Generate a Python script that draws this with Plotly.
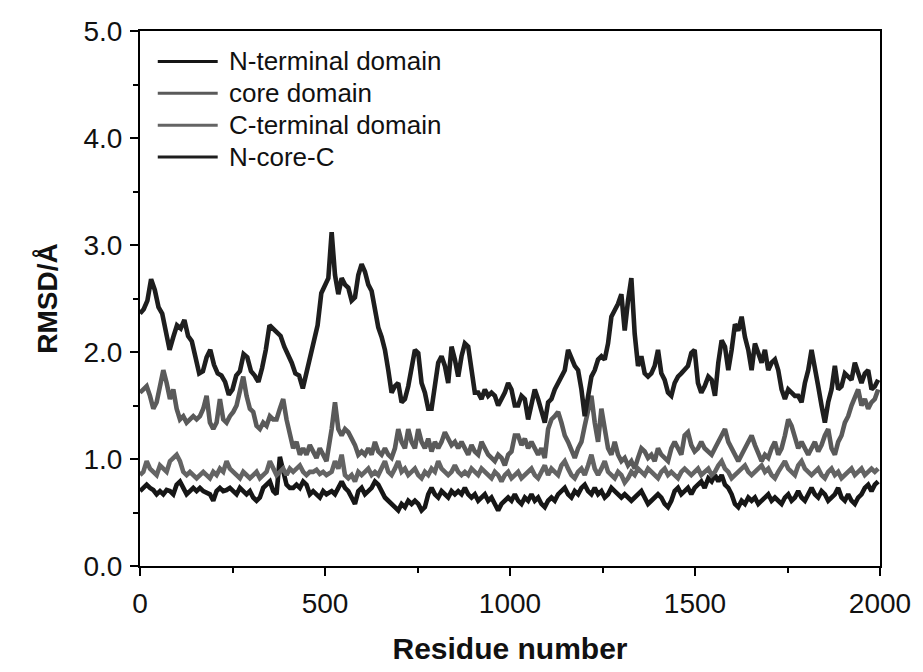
import plotly.graph_objects as go

# Residue numbers at which each RMSD trace was sampled (four stretches of the trajectory)
residue_nc = (list(range(0, 501, 10))
              + [482 + 9 * j for j in range(3, 60)]
              + [995 + 9 * j for j in range(3, 60)]
              + [1509 + 9 * j for j in range(3, 55)])
residue = ([9 * j for j in range(57)]
           + [482 + 9 * j for j in range(4, 60)]
           + [995 + 9 * j for j in range(3, 60)]
           + [1509 + 9 * j for j in range(3, 55)])

# RMSD (Å) of the whole protein, N-core-C
rmsd_ncore_c = [
    2.36, 2.40, 2.48, 2.68, 2.58, 2.42, 2.36, 2.20, 2.02, 2.14, 2.25, 2.22, 2.30, 2.15, 2.10, 1.95, 1.80,
    1.82, 1.95, 2.02, 1.88, 1.80, 1.78, 1.72, 1.60, 1.65, 1.78, 1.82, 1.98, 1.95, 1.82, 1.78, 1.72, 1.85,
    2.02, 2.25, 2.22, 2.18, 2.15, 2.05, 1.98, 1.90, 1.80, 1.78, 1.66, 1.82, 1.98, 2.10, 2.25, 2.55, 2.62,
    2.69, 3.12, 2.72, 2.54, 2.69, 2.63, 2.60, 2.48, 2.51, 2.72, 2.82, 2.75, 2.63, 2.57, 2.39, 2.23, 2.14,
    2.02, 1.83, 1.62, 1.68, 1.71, 1.53, 1.56, 1.68, 1.83, 2.02, 1.99, 1.71, 1.62, 1.47, 1.47, 1.71, 1.90,
    1.96, 1.87, 1.71, 2.05, 1.93, 1.77, 1.96, 2.08, 2.05, 1.83, 1.62, 1.62, 1.56, 1.65, 1.59, 1.62, 1.59,
    1.50, 1.56, 1.62, 1.71, 1.65, 1.50,
    1.50, 1.59, 1.56, 1.37, 1.50, 1.65, 1.56, 1.44, 1.34, 1.53, 1.56, 1.65, 1.71, 1.77, 1.83, 2.02, 1.93,
    1.87, 1.83, 1.65, 1.40, 1.62, 1.77, 1.83, 1.93, 1.96, 1.93, 2.08, 2.33, 2.39, 2.45, 2.54, 2.20, 2.48,
    2.69, 2.17, 1.87, 1.96, 1.80, 1.77, 1.80, 1.87, 2.02, 1.80, 1.74, 1.62, 1.59, 1.71, 1.77, 1.80, 1.83,
    1.87, 1.99, 2.02, 1.71, 1.62, 1.68,
    1.77, 1.74, 1.59, 1.90, 2.11, 2.05, 1.83, 2.02, 2.26, 2.20, 2.33, 2.14, 2.02, 1.83, 2.08, 1.99, 1.90,
    2.02, 1.83, 1.90, 1.93, 1.83, 1.65, 1.56, 1.65, 1.62, 1.59, 1.59, 1.53, 1.71, 1.83, 2.02, 1.87, 1.68,
    1.50, 1.34, 1.53, 1.65, 1.87, 1.65, 1.68, 1.80, 1.77, 1.74, 1.90, 1.80, 1.71, 1.80, 1.83, 1.65, 1.68,
    1.74,
]

# RMSD (Å) of the core domain
rmsd_core = [
    1.62, 1.65, 1.68, 1.59, 1.47, 1.53, 1.71, 1.83, 1.71, 1.56, 1.65, 1.47, 1.37, 1.40, 1.34, 1.37, 1.40,
    1.37, 1.40, 1.47, 1.59, 1.34, 1.28, 1.34, 1.56, 1.37, 1.34, 1.40, 1.44, 1.50, 1.62, 1.77, 1.59, 1.47,
    1.44, 1.31, 1.28, 1.34, 1.31, 1.40, 1.37, 1.37, 1.47, 1.56, 1.37, 1.22, 1.10, 1.16, 1.04, 1.10, 1.04,
    1.13, 1.07, 1.01, 1.10, 1.04, 0.98,
    1.28, 1.53, 1.28, 1.22, 1.28, 1.25, 1.19, 1.13, 1.04, 1.07, 1.04, 1.10, 1.04, 1.16, 1.07, 1.04, 1.10,
    1.04, 1.01, 1.10, 1.28, 1.16, 1.10, 1.28, 1.16, 1.10, 1.28, 1.16, 1.10, 1.19, 1.07, 1.16, 1.10, 1.16,
    1.25, 1.19, 1.13, 1.16, 1.10, 1.16, 1.10, 1.04, 1.13, 1.07, 1.04, 1.16, 1.10, 1.04, 1.01, 0.98, 1.04,
    1.01, 0.94, 1.04, 1.07, 1.22,
    1.22, 1.13, 1.19, 1.10, 1.16, 1.10, 1.04, 1.10, 1.01, 1.28, 1.37, 1.40, 1.44, 1.34, 1.22, 1.16, 1.07,
    1.01, 1.10, 1.16, 1.31, 1.47, 1.59, 1.34, 1.16, 1.47, 1.28, 1.10, 1.04, 1.16, 1.04, 0.98, 1.01, 0.94,
    0.98, 0.91, 1.01, 1.10, 1.07, 1.01, 1.04, 0.98, 1.10, 1.04, 1.01, 0.98, 1.10, 1.16, 1.10, 1.04, 1.22,
    1.25, 1.13, 1.07, 1.10, 1.16, 1.10,
    1.07, 1.04, 1.10, 1.16, 1.22, 1.28, 1.16, 1.10, 1.04, 0.98, 1.04, 1.10, 1.16, 1.22, 1.13, 1.04, 0.98,
    1.04, 1.01, 1.10, 1.16, 1.04, 1.10, 1.22, 1.37, 1.31, 1.22, 1.10, 1.16, 1.10, 1.04, 1.10, 1.16, 1.07,
    1.13, 1.22, 1.28, 1.10, 1.04, 1.16, 1.22, 1.34, 1.40, 1.50, 1.59, 1.65, 1.50, 1.56, 1.47, 1.53, 1.56,
    1.65,
]

# RMSD (Å) of the C-terminal domain
rmsd_cterm = [
    0.85, 0.88, 0.98, 0.91, 0.88, 0.85, 0.94, 0.91, 0.88, 0.98, 1.01, 1.04, 0.98, 0.88, 0.85, 0.88, 0.85,
    0.82, 0.85, 0.88, 0.85, 0.82, 0.88, 0.85, 0.91, 0.88, 0.98, 0.91, 0.88, 0.85, 0.82, 0.88, 0.85, 0.82,
    0.85, 0.88, 0.82, 0.85, 0.88, 0.98, 0.91, 0.85, 0.88, 0.91, 0.85, 0.91, 0.88, 0.91, 0.94, 0.88, 0.85,
    0.88, 0.88, 0.90, 0.86, 0.88, 0.85,
    0.88, 0.98, 0.91, 1.04, 0.85, 0.82, 0.85, 0.79, 0.88, 0.85, 0.88, 0.91, 0.85, 0.88, 0.85, 0.91, 0.98,
    0.88, 0.85, 0.91, 0.98, 0.88, 0.91, 0.85, 0.88, 0.91, 0.85, 0.82, 0.88, 0.85, 0.91, 0.88, 0.98, 0.91,
    0.88, 0.85, 0.88, 0.94, 0.88, 0.85, 0.88, 0.85, 0.91, 0.88, 0.85, 0.91, 0.88, 0.85, 0.82, 0.88, 0.85,
    0.79, 0.85, 0.88, 0.82, 0.85,
    0.88, 0.82, 0.85, 0.88, 0.91, 0.85, 0.82, 0.88, 0.94, 0.85, 0.91, 0.88, 0.85, 0.94, 0.98, 0.91, 0.85,
    0.82, 0.88, 0.91, 0.85, 0.94, 1.04, 0.91, 0.85, 0.91, 0.98, 0.88, 0.85, 0.82, 0.88, 0.85, 0.78, 0.82,
    0.88, 0.85, 0.91, 0.88, 0.85, 0.91, 0.88, 0.85, 0.82, 0.88, 0.91, 0.85, 0.88, 0.85, 0.82, 0.88, 0.91,
    0.88, 0.85, 0.88, 0.91, 0.85, 0.88,
    0.91, 0.85, 0.88, 0.94, 0.98, 0.91, 0.88, 0.82, 0.85, 0.88, 0.91, 0.94, 0.88, 0.85, 0.88, 0.91, 0.94,
    0.88, 0.91, 0.85, 0.82, 0.88, 0.94, 0.98, 0.91, 0.88, 0.85, 0.94, 0.98, 0.91, 0.88, 0.85, 0.88, 0.91,
    0.85, 0.82, 0.88, 0.91, 0.85, 0.88, 0.82, 0.85, 0.88, 0.91, 0.85, 0.88, 0.91, 0.85, 0.88, 0.91, 0.88,
    0.91,
]

# RMSD (Å) of the N-terminal domain
rmsd_nterm = [
    0.70, 0.73, 0.76, 0.73, 0.71, 0.67, 0.70, 0.67, 0.71, 0.70, 0.67, 0.76, 0.79, 0.73, 0.67, 0.70, 0.73,
    0.70, 0.73, 0.70, 0.68, 0.67, 0.61, 0.70, 0.73, 0.70, 0.71, 0.73, 0.70, 0.67, 0.73, 0.70, 0.67, 0.70,
    0.64, 0.61, 0.64, 0.73, 0.76, 0.79, 0.70, 0.67, 1.02, 0.88, 0.76, 0.73, 0.73, 0.76, 0.73, 0.79, 0.76,
    0.67, 0.70, 0.67, 0.64, 0.70, 0.67,
    0.70, 0.67, 0.73, 0.79, 0.73, 0.70, 0.64, 0.58, 0.70, 0.73, 0.67, 0.70, 0.73, 0.79, 0.76, 0.70, 0.64,
    0.61, 0.58, 0.55, 0.52, 0.58, 0.55, 0.61, 0.58, 0.61, 0.58, 0.52, 0.55, 0.67, 0.73, 0.67, 0.64, 0.70,
    0.67, 0.64, 0.70, 0.67, 0.70, 0.67, 0.73, 0.67, 0.64, 0.67, 0.61, 0.64, 0.67, 0.61, 0.64, 0.58, 0.52,
    0.58, 0.61, 0.64, 0.61, 0.67,
    0.61, 0.58, 0.64, 0.61, 0.67, 0.61, 0.64, 0.58, 0.55, 0.61, 0.64, 0.61, 0.67, 0.70, 0.73, 0.67, 0.64,
    0.70, 0.67, 0.73, 0.76, 0.70, 0.67, 0.73, 0.67, 0.70, 0.64, 0.67, 0.73, 0.70, 0.67, 0.64, 0.67, 0.64,
    0.61, 0.64, 0.67, 0.70, 0.64, 0.58, 0.61, 0.64, 0.67, 0.64, 0.58, 0.55, 0.61, 0.70, 0.73, 0.67, 0.70,
    0.73, 0.67, 0.73, 0.76, 0.79, 0.73,
    0.82, 0.79, 0.85, 0.79, 0.85, 0.76, 0.73, 0.67, 0.58, 0.55, 0.61, 0.58, 0.64, 0.61, 0.64, 0.58, 0.61,
    0.64, 0.67, 0.61, 0.64, 0.61, 0.58, 0.64, 0.67, 0.61, 0.64, 0.70, 0.64, 0.61, 0.67, 0.73, 0.67, 0.64,
    0.70, 0.67, 0.61, 0.64, 0.67, 0.73, 0.64, 0.61, 0.67, 0.61, 0.58, 0.64, 0.67, 0.73, 0.76, 0.70, 0.76,
    0.79,
]

series_names = ["N-terminal domain", "core domain", "C-terminal domain", "N-core-C"]
series_x = [residue, residue, residue, residue_nc]
series_y = [rmsd_nterm, rmsd_core, rmsd_cterm, rmsd_ncore_c]
series_colors = ["#161616", "#5a5a5a", "#646464", "#1e1e1e"]

for xs, ys, name in zip(series_x, series_y, series_names):
    if len(xs) != len(ys):
        raise ValueError(f"{name}: {len(xs)} residues vs {len(ys)} values")

FONT = "Liberation Sans, Arial, Helvetica, sans-serif"

fig = go.Figure()
for xs, ys, name, color in zip(series_x, series_y, series_names, series_colors):
    fig.add_trace(go.Scatter(
        x=xs, y=ys, name=name, mode="lines",
        line=dict(color=color, width=4.6),
        showlegend=False,
    ))

# Key in the upper-left corner of the plot: a short line sample and the series name
key_x0, key_x1, key_text_x = 0.024, 0.105, 0.117
key_top, key_step = 0.943, 0.0595
for i, (name, color) in enumerate(zip(series_names, series_colors)):
    ky = key_top - i * key_step
    fig.add_shape(type="line", xref="paper", yref="paper",
                  x0=key_x0, x1=key_x1, y0=ky, y1=ky,
                  line=dict(color=color, width=3))
    fig.add_annotation(xref="paper", yref="paper", x=key_text_x, y=ky,
                       xanchor="left", yanchor="middle", showarrow=False,
                       text=name, font=dict(family="Liberation Sans, Arial, sans-serif",
                                            size=26, color="#111"))

axis_common = dict(
    showline=True, linecolor="black", linewidth=2, mirror=True,
    showgrid=False, zeroline=False,
    ticks="outside", ticklen=8, tickwidth=2, tickcolor="black",
    tickfont=dict(family=FONT, size=28, color="#111"),
)

fig.update_xaxes(
    range=[0, 2000], tick0=0, dtick=500,
    minor=dict(dtick=250, ticks="outside", ticklen=5, tickwidth=2, tickcolor="black"),
    ticklabelstandoff=3,
    title=dict(text="Residue number", standoff=20,
               font=dict(family=FONT, size=30, color="#111", weight="bold")),
    **axis_common,
)
fig.update_yaxes(
    range=[0, 5], tick0=0, dtick=1, tickformat=".1f",
    minor=dict(dtick=0.5, ticks="outside", ticklen=5, tickwidth=2, tickcolor="black"),
    ticklabelstandoff=2,
    title=dict(text="RMSD/Å", standoff=18,
               font=dict(family=FONT, size=28, color="#111", weight="bold")),
    **axis_common,
)

fig.update_layout(
    width=923, height=672,
    margin=dict(l=140, r=42, t=31, b=97),
    paper_bgcolor="white", plot_bgcolor="white",
    font=dict(family=FONT, color="#111"),
    showlegend=False,
)

fig.write_html("out.html")
